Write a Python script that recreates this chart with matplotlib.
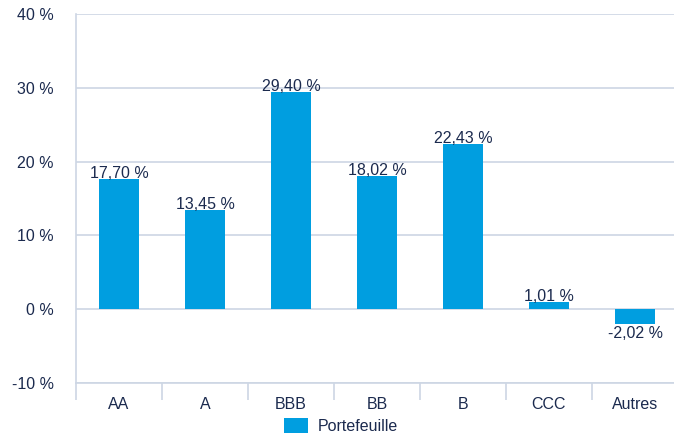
import matplotlib
matplotlib.use("Agg")
import matplotlib.pyplot as plt
from matplotlib.patches import Patch

categories = ["AA", "A", "BBB", "BB", "B", "CCC", "Autres"]
values = [17.70, 13.45, 29.40, 18.02, 22.43, 1.01, -2.02]
value_labels = ["17,70 %", "13,45 %", "29,40 %", "18,02 %", "22,43 %", "1,01 %", "-2,02 %"]
yticks = [-10, 0, 10, 20, 30, 40]
ytick_labels = ["-10 %", "0 %", "10 %", "20 %", "30 %", "40 %"]
series_name = "Portefeuille"

plt.rcParams['font.family'] = ['Liberation Sans', 'DejaVu Sans']
text_color = "#1b2a4e"
grid_color = "#cdd6e4"
bar_color = "#009ee0"
fs = 11.5

fig = plt.figure(figsize=(6.74, 4.36), dpi=100)
ax = fig.add_axes([76/674, 1-383/436, (678-76)/674, (383-14)/436])

x = list(range(len(categories)))
ax.bar(x, values, width=0.465, color=bar_color, zorder=3)
ax.set_xlim(-0.5, len(categories)-0.5)
ax.set_ylim(-10, 40)
ax.set_yticks(yticks)
ax.set_yticklabels(ytick_labels, color=text_color, fontsize=fs)
ax.set_xticks(x)
ax.set_xticklabels(categories, color=text_color, fontsize=fs)
ax.tick_params(axis='x', which='major', length=0, pad=10)
ax.tick_params(axis='y', length=0, pad=16)
ax.set_xticks([i - 0.5 for i in range(len(categories)+1)], minor=True)
ax.tick_params(axis='x', which='minor', length=12, color=grid_color, width=1.2)
ax.grid(axis='y', color=grid_color, linewidth=1.2, zorder=0)
for s in ['top', 'right']:
    ax.spines[s].set_visible(False)
ax.spines['left'].set_color(grid_color)
ax.spines['bottom'].set_color(grid_color)
ax.spines['left'].set_linewidth(1.2)
ax.spines['bottom'].set_linewidth(1.2)

for xi, v, lab in zip(x, values, value_labels):
    if v >= 0:
        ax.text(xi, v - 0.3, lab, ha='center', va='bottom', color=text_color, fontsize=fs, zorder=4)
    else:
        ax.text(xi, v - 0.3, lab, ha='center', va='top', color=text_color, fontsize=fs, zorder=4)

handles = [Patch(facecolor=bar_color, label=series_name)]
fig.legend(handles=handles, loc='center', bbox_to_anchor=(341/674, 1-426/436), frameon=False,
           fontsize=fs, labelcolor=text_color, handlelength=1.5, handleheight=1.1, handletextpad=0.6)

fig.savefig("out.png", dpi=100)
